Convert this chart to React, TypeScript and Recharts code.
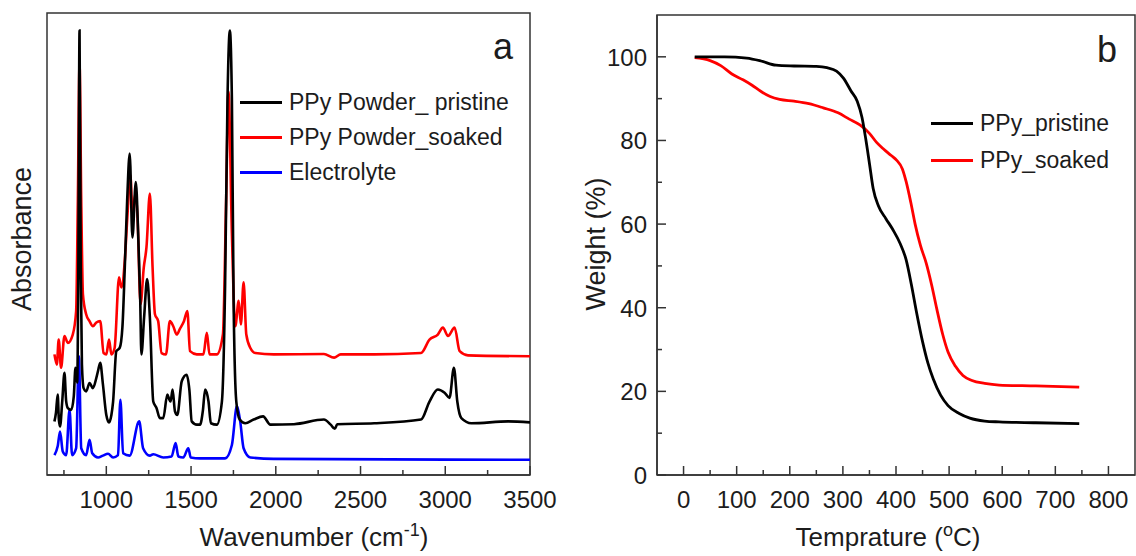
import { LineChart, Line, XAxis, YAxis, ReferenceArea } from 'recharts';

// FTIR spectra (wavenumber cm-1, absorbance in arbitrary offset units)
const pristineFtir = [
  { w: 694, a: 11.6 }, { w: 703, a: 13.5 }, { w: 713, a: 17.4 }, { w: 720, a: 12 }, { w: 727, a: 10.5 },
  { w: 740, a: 16 }, { w: 753, a: 22.1 }, { w: 763, a: 16 }, { w: 773, a: 14.5 }, { w: 793, a: 14.1 },
  { w: 808, a: 17 }, { w: 818, a: 23.2 }, { w: 828, a: 20 }, { w: 835, a: 45 }, { w: 842, a: 96.2 },
  { w: 849, a: 45 }, { w: 856, a: 24 }, { w: 866, a: 18.8 }, { w: 881, a: 18.1 }, { w: 901, a: 19.9 },
  { w: 921, a: 18.8 }, { w: 941, a: 21 }, { w: 951, a: 22.5 }, { w: 964, a: 24.3 }, { w: 980, a: 19.6 },
  { w: 1000, a: 13 }, { w: 1016, a: 11.4 }, { w: 1030, a: 13 }, { w: 1040, a: 15.9 }, { w: 1059, a: 26.8 },
  { w: 1079, a: 27.5 }, { w: 1095, a: 32 }, { w: 1109, a: 44.9 }, { w: 1123, a: 59.4 }, { w: 1138, a: 69.6 },
  { w: 1154, a: 51.4 }, { w: 1174, a: 63.4 }, { w: 1188, a: 52.2 }, { w: 1200, a: 38 }, { w: 1207, a: 26.1 },
  { w: 1223, a: 34.1 }, { w: 1241, a: 42.4 }, { w: 1257, a: 34.1 }, { w: 1277, a: 15.9 }, { w: 1296, a: 14.5 },
  { w: 1316, a: 12.3 }, { w: 1336, a: 12.3 }, { w: 1360, a: 17.4 }, { w: 1370, a: 16.5 }, { w: 1379, a: 15.9 },
  { w: 1391, a: 18.5 }, { w: 1405, a: 13.8 }, { w: 1419, a: 13 }, { w: 1445, a: 20.3 }, { w: 1474, a: 21.7 },
  { w: 1490, a: 18.5 }, { w: 1504, a: 11.6 }, { w: 1534, a: 10.9 }, { w: 1553, a: 10.9 }, { w: 1570, a: 14 },
  { w: 1583, a: 18.5 }, { w: 1603, a: 15.9 }, { w: 1617, a: 11.2 }, { w: 1652, a: 10.9 }, { w: 1682, a: 15.9 },
  { w: 1701, a: 41.3 }, { w: 1715, a: 81.2 }, { w: 1729, a: 96.2 }, { w: 1741, a: 81.2 }, { w: 1751, a: 37.7 },
  { w: 1767, a: 15.9 }, { w: 1787, a: 12 }, { w: 1820, a: 11.2 }, { w: 1869, a: 12 }, { w: 1925, a: 12.7 },
  { w: 1968, a: 10.9 }, { w: 2107, a: 11 }, { w: 2284, a: 12 }, { w: 2324, a: 10.9 }, { w: 2348, a: 10 },
  { w: 2363, a: 11 }, { w: 2581, a: 11.2 }, { w: 2857, a: 12 }, { w: 2907, a: 15.9 }, { w: 2956, a: 18.5 },
  { w: 2996, a: 17.8 }, { w: 3025, a: 16.7 }, { w: 3051, a: 23.2 }, { w: 3071, a: 15.9 }, { w: 3095, a: 12.3 },
  { w: 3154, a: 11.2 }, { w: 3371, a: 11.6 }, { w: 3500, a: 11.4 },
];

const soakedFtir = [
  { w: 694, a: 26.1 }, { w: 708, a: 23.9 }, { w: 719, a: 29.3 }, { w: 733, a: 23.2 }, { w: 753, a: 30.1 },
  { w: 773, a: 28.6 }, { w: 802, a: 30.4 }, { w: 822, a: 35.5 }, { w: 832, a: 59.4 }, { w: 842, a: 89.1 },
  { w: 852, a: 59.4 }, { w: 862, a: 39.1 }, { w: 881, a: 34.8 }, { w: 901, a: 33.3 }, { w: 921, a: 32.2 },
  { w: 941, a: 33 }, { w: 964, a: 33.3 }, { w: 984, a: 26.4 }, { w: 1000, a: 26.1 }, { w: 1016, a: 29.3 },
  { w: 1030, a: 26.1 }, { w: 1049, a: 27.5 }, { w: 1075, a: 42.8 }, { w: 1089, a: 40.6 }, { w: 1109, a: 46.4 },
  { w: 1124, a: 55.8 }, { w: 1142, a: 64.9 }, { w: 1154, a: 56.5 }, { w: 1172, a: 60.9 }, { w: 1184, a: 55.8 },
  { w: 1202, a: 37 }, { w: 1221, a: 44.9 }, { w: 1237, a: 49.3 }, { w: 1257, a: 60.9 }, { w: 1273, a: 44.9 },
  { w: 1287, a: 34.8 }, { w: 1306, a: 33.3 }, { w: 1326, a: 26.4 }, { w: 1352, a: 26.1 }, { w: 1375, a: 33.3 },
  { w: 1395, a: 32.2 }, { w: 1415, a: 30.4 }, { w: 1435, a: 31.7 }, { w: 1458, a: 33.3 }, { w: 1478, a: 35.5 },
  { w: 1494, a: 26.8 }, { w: 1534, a: 26.1 }, { w: 1573, a: 26.1 }, { w: 1593, a: 30.8 }, { w: 1609, a: 26.1 },
  { w: 1652, a: 26.1 }, { w: 1688, a: 30.4 }, { w: 1707, a: 59.4 }, { w: 1721, a: 83 }, { w: 1741, a: 52.2 },
  { w: 1761, a: 32.2 }, { w: 1781, a: 37.7 }, { w: 1794, a: 32.6 }, { w: 1810, a: 41.7 }, { w: 1826, a: 30.4 },
  { w: 1850, a: 27.5 }, { w: 1879, a: 26.4 }, { w: 1988, a: 26.1 }, { w: 2284, a: 26.2 }, { w: 2344, a: 25.4 },
  { w: 2383, a: 26.1 }, { w: 2581, a: 26.1 }, { w: 2857, a: 26.4 }, { w: 2907, a: 29.3 }, { w: 2956, a: 30.4 },
  { w: 2986, a: 31.9 }, { w: 3016, a: 30.1 }, { w: 3055, a: 31.9 }, { w: 3085, a: 26.8 }, { w: 3134, a: 25.9 },
  { w: 3500, a: 25.7 },
];

const electrolyteFtir = [
  { w: 694, a: 4.3 }, { w: 713, a: 6.2 }, { w: 727, a: 9.4 }, { w: 743, a: 5.1 }, { w: 763, a: 4.3 },
  { w: 783, a: 14.1 }, { w: 798, a: 4.3 }, { w: 822, a: 5.8 }, { w: 838, a: 25.7 }, { w: 852, a: 5.8 },
  { w: 881, a: 4.3 }, { w: 901, a: 7.6 }, { w: 917, a: 4.7 }, { w: 951, a: 3.8 }, { w: 980, a: 4.2 },
  { w: 1010, a: 4.6 }, { w: 1040, a: 3.8 }, { w: 1069, a: 4.3 }, { w: 1083, a: 16.3 }, { w: 1099, a: 4.7 },
  { w: 1138, a: 4.2 }, { w: 1194, a: 11.6 }, { w: 1217, a: 5.8 }, { w: 1257, a: 4.2 }, { w: 1277, a: 4.5 },
  { w: 1336, a: 3.8 }, { w: 1385, a: 4 }, { w: 1409, a: 6.9 }, { w: 1425, a: 4 }, { w: 1454, a: 3.8 },
  { w: 1484, a: 5.8 }, { w: 1498, a: 3.8 }, { w: 1553, a: 3.6 }, { w: 1701, a: 3.6 }, { w: 1741, a: 6.5 },
  { w: 1771, a: 14.9 }, { w: 1790, a: 11.6 }, { w: 1810, a: 5.8 }, { w: 1850, a: 3.8 }, { w: 1988, a: 3.5 },
  { w: 3500, a: 3.3 },
];

// TGA curves (temperature °C, weight %)
const pristineTga = [
  { t: 21, m: 100 }, { t: 77, m: 100 }, { t: 119, m: 99.7 }, { t: 146, m: 99 }, { t: 174, m: 98 },
  { t: 208, m: 97.8 }, { t: 250, m: 97.7 }, { t: 270, m: 97.4 }, { t: 288, m: 96.6 }, { t: 301, m: 94.9 },
  { t: 315, m: 91.9 }, { t: 327, m: 89.4 }, { t: 336, m: 85.5 }, { t: 343, m: 80.4 }, { t: 350, m: 74.5 },
  { t: 357, m: 68.5 }, { t: 367, m: 64.3 }, { t: 381, m: 61.3 }, { t: 394, m: 58.7 }, { t: 408, m: 55.3 },
  { t: 419, m: 51.5 }, { t: 429, m: 45.5 }, { t: 439, m: 38.7 }, { t: 450, m: 31.9 }, { t: 460, m: 26.8 },
  { t: 470, m: 23 }, { t: 484, m: 19.1 }, { t: 498, m: 16.6 }, { t: 519, m: 14.7 }, { t: 539, m: 13.6 },
  { t: 567, m: 12.9 }, { t: 594, m: 12.7 }, { t: 663, m: 12.5 }, { t: 745, m: 12.3 },
];

const soakedTga = [
  { t: 21, m: 99.8 }, { t: 50, m: 99.1 }, { t: 70, m: 97.9 }, { t: 91, m: 95.9 }, { t: 112, m: 94.5 },
  { t: 129, m: 93.2 }, { t: 146, m: 91.7 }, { t: 163, m: 90.5 }, { t: 181, m: 89.8 }, { t: 208, m: 89.4 },
  { t: 236, m: 88.8 }, { t: 263, m: 87.8 }, { t: 291, m: 86.6 }, { t: 312, m: 85.1 }, { t: 332, m: 83.7 },
  { t: 350, m: 81.7 }, { t: 363, m: 79.6 }, { t: 377, m: 77.9 }, { t: 391, m: 76.4 }, { t: 401, m: 75.3 },
  { t: 412, m: 73.2 }, { t: 419, m: 70.2 }, { t: 428, m: 65.1 }, { t: 436, m: 60 }, { t: 446, m: 54.9 },
  { t: 457, m: 50.6 }, { t: 467, m: 45.5 }, { t: 477, m: 39.6 }, { t: 488, m: 33.6 }, { t: 498, m: 29.4 },
  { t: 512, m: 26 }, { t: 526, m: 23.8 }, { t: 543, m: 22.6 }, { t: 567, m: 21.9 }, { t: 594, m: 21.5 },
  { t: 663, m: 21.3 }, { t: 745, m: 21 },
];

const ftirTicks = [750, 1000, 1250, 1500, 1750, 2000, 2250, 2500, 2750, 3000, 3250, 3500];
const tempTicks = [0, 50, 100, 150, 200, 250, 300, 350, 400, 450, 500, 550, 600, 650, 700, 750, 800];
const weightTicks = [0, 10, 20, 30, 40, 50, 60, 70, 80, 90, 100];

const FONT = '"Liberation Sans", Arial, Helvetica, sans-serif';
const INK = '#1c1c1c';
const AXIS = '#333';

function BottomTick({ x, y, payload, major }: any) {
  const isMajor = payload.value % major === 0;
  return (
    <g>
      <line x1={x} x2={x} y1={y} y2={y - (isMajor ? 9 : 5)} stroke={AXIS} strokeWidth={1.5} />
      {isMajor && (
        <text x={x} y={y + 33} textAnchor="middle" fontSize={24} fill={INK} fontFamily={FONT}>
          {payload.value}
        </text>
      )}
    </g>
  );
}

function LeftTick({ x, y, payload }: any) {
  const isMajor = payload.value % 20 === 0;
  return (
    <g>
      <line x1={x} x2={x + (isMajor ? 9 : 5)} y1={y} y2={y} stroke={AXIS} strokeWidth={1.5} />
      {isMajor && (
        <text x={x - 10} y={y + 9} textAnchor="end" fontSize={24} fill={INK} fontFamily={FONT}>
          {payload.value}
        </text>
      )}
    </g>
  );
}

function Txt({ x, y, size, rotate, children }: any) {
  return (
    <div
      style={{
        position: 'absolute',
        left: x,
        top: y,
        transform: `translate(-50%, -50%)${rotate ? ' rotate(-90deg)' : ''}`,
        fontSize: size,
        lineHeight: 1.15,
        whiteSpace: 'nowrap',
        color: INK,
        fontFamily: FONT,
      }}
    >
      {children}
    </div>
  );
}

function LegendRow({ x, y, color, label }: any) {
  return (
    <div style={{ position: 'absolute', left: x, top: y - 13, height: 26, display: 'flex', alignItems: 'center', fontFamily: FONT, color: INK, fontSize: 23, whiteSpace: 'nowrap' }}>
      <span style={{ display: 'inline-block', width: 42, height: 3, background: color, marginRight: 7 }} />
      {label}
    </div>
  );
}

export default function App() {
  return (
    <div style={{ position: 'absolute', left: 0, top: 0, width: 1136, height: 556, overflow: 'hidden', background: '#fff' }}>
      <div style={{ position: 'absolute', left: 0, top: 0 }}>
        <LineChart width={560} height={556} margin={{ top: 13, right: 30, bottom: 41, left: 47 }}>
          <XAxis
            type="number"
            dataKey="w"
            domain={[650, 3500]}
            ticks={ftirTicks}
            interval={0}
            allowDataOverflow
            height={40}
            tickSize={0}
            tickMargin={0}
            tickLine={false}
            axisLine={{ stroke: AXIS, strokeWidth: 1.5 }}
            tick={(p: any) => <BottomTick {...p} major={500} />}
          />
          <YAxis type="number" domain={[0, 100]} hide width={0} />
          <ReferenceArea x1={650} x2={3500} y1={0} y2={100} fill="none" stroke={AXIS} strokeWidth={1.5} ifOverflow="visible" />
          <Line data={electrolyteFtir} dataKey="a" type="monotone" stroke="#0000ff" strokeWidth={2.6} dot={false} isAnimationActive={false} />
          <Line data={soakedFtir} dataKey="a" type="monotone" stroke="#ff0000" strokeWidth={2.6} dot={false} isAnimationActive={false} />
          <Line data={pristineFtir} dataKey="a" type="monotone" stroke="#000000" strokeWidth={2.6} dot={false} isAnimationActive={false} />
        </LineChart>
      </div>

      <div style={{ position: 'absolute', left: 560, top: 0 }}>
        <LineChart width={576} height={556} margin={{ top: 15, right: 1, bottom: 41, left: 37 }}>
          <XAxis
            type="number"
            dataKey="t"
            domain={[-50, 850]}
            ticks={tempTicks}
            interval={0}
            allowDataOverflow
            height={40}
            tickSize={0}
            tickMargin={0}
            tickLine={false}
            axisLine={{ stroke: AXIS, strokeWidth: 1.5 }}
            tick={(p: any) => <BottomTick {...p} major={100} />}
          />
          <YAxis
            type="number"
            domain={[0, 110]}
            ticks={weightTicks}
            interval={0}
            allowDataOverflow
            width={60}
            tickSize={0}
            tickMargin={0}
            tickLine={false}
            axisLine={{ stroke: AXIS, strokeWidth: 1.5 }}
            tick={(p: any) => <LeftTick {...p} />}
          />
          <ReferenceArea x1={-50} x2={850} y1={0} y2={110} fill="none" stroke={AXIS} strokeWidth={1.5} ifOverflow="visible" />
          <Line data={soakedTga} dataKey="m" type="monotone" stroke="#ff0000" strokeWidth={2.8} dot={false} isAnimationActive={false} />
          <Line data={pristineTga} dataKey="m" type="monotone" stroke="#000000" strokeWidth={2.8} dot={false} isAnimationActive={false} />
        </LineChart>
      </div>

      <Txt x={23} y={239} size={27} rotate>Absorbance</Txt>
      <Txt x={314} y={536} size={26}>
        Wavenumber (cm<span style={{ fontSize: 18, verticalAlign: '0.55em' }}>-1</span>)
      </Txt>
      <Txt x={503} y={47} size={36}>a</Txt>
      <LegendRow x={240} y={102} color="#000000" label="PPy Powder_ pristine" />
      <LegendRow x={240} y={137} color="#ff0000" label="PPy Powder_soaked" />
      <LegendRow x={240} y={172} color="#0000ff" label="Electrolyte" />

      <Txt x={597} y={244} size={27} rotate>Weight (%)</Txt>
      <Txt x={888} y={536} size={26}>
        Temprature (<span style={{ fontSize: 18, verticalAlign: '0.55em' }}>o</span>C)
      </Txt>
      <Txt x={1107} y={50} size={36}>b</Txt>
      <LegendRow x={931} y={123} color="#000000" label="PPy_pristine" />
      <LegendRow x={931} y={160} color="#ff0000" label="PPy_soaked" />
    </div>
  );
}
